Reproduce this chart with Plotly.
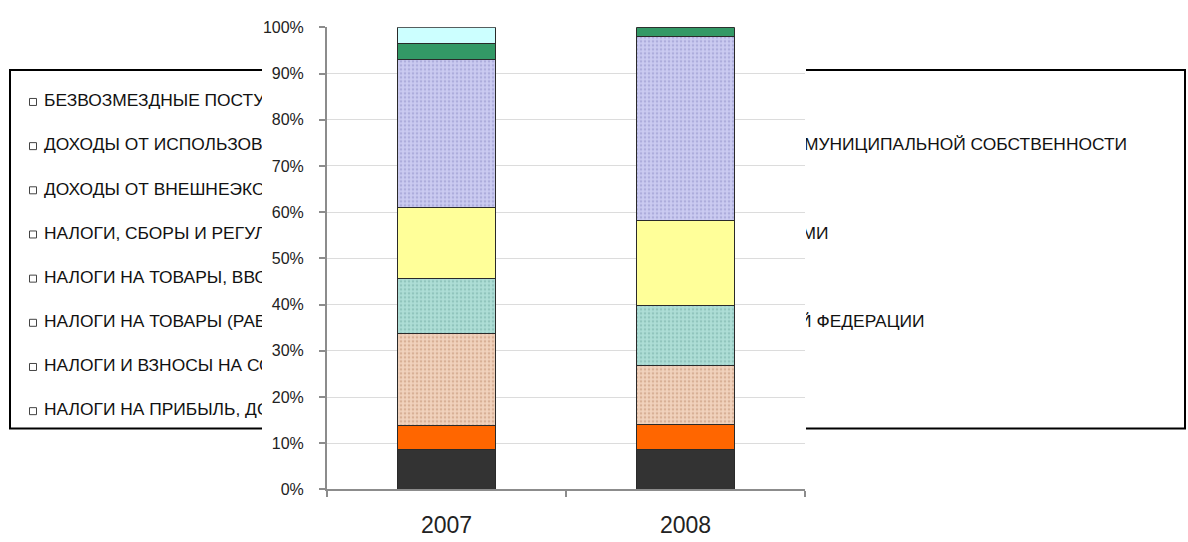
import plotly.graph_objects as go

W, H = 1188, 542

years = ["2007", "2008"]

# legend order (top of stack first)
series_names = [
    "БЕЗВОЗМЕЗДНЫЕ ПОСТУПЛЕНИЯ",
    "ДОХОДЫ ОТ ИСПОЛЬЗОВАНИЯ ИМУЩЕСТВА, НАХОДЯЩЕГОСЯ В ГОСУДАРСТВЕННОЙ И МУНИЦИПАЛЬНОЙ СОБСТВЕННОСТИ",
    "ДОХОДЫ ОТ ВНЕШНЕЭКОНОМИЧЕСКОЙ ДЕЯТЕЛЬНОСТИ",
    "НАЛОГИ, СБОРЫ И РЕГУЛЯРНЫЕ ПЛАТЕЖИ ЗА ПОЛЬЗОВАНИЕ ПРИРОДНЫМИ РЕСУРСАМИ",
    "НАЛОГИ НА ТОВАРЫ, ВВОЗИМЫЕ НА ТЕРРИТОРИЮ РОССИЙСКОЙ ФЕДЕРАЦИИ",
    "НАЛОГИ НА ТОВАРЫ (РАБОТЫ, УСЛУГИ), РЕАЛИЗУЕМЫЕ НА ТЕРРИТОРИИ РОССИЙСКОЙ ФЕДЕРАЦИИ",
    "НАЛОГИ И ВЗНОСЫ НА СОЦИАЛЬНЫЕ НУЖДЫ",
    "НАЛОГИ НА ПРИБЫЛЬ, ДОХОДЫ",
]

# shares, % (2007, 2008)
bezvozmezdnye = [3.4, 0.0]
imushchestvo = [3.6, 1.9]
vneshneekonom = [32.0, 39.8]
prirodnye = [15.3, 18.5]
vvozimye = [11.9, 13.0]
realizuemye = [20.0, 12.8]
socialnye = [5.1, 5.3]
pribyl = [8.7, 8.7]

series_values = [bezvozmezdnye, imushchestvo, vneshneekonom, prirodnye,
                 vvozimye, realizuemye, socialnye, pribyl]

y_ticks = [0, 10, 20, 30, 40, 50, 60, 70, 80, 90, 100]

# styles (bg colour, pattern fg colour or None)
styles = [
    ("#CCFFFF", None),
    ("#339966", None),
    ("#CBCBF1", "#9090C8"),
    ("#FFFF99", None),
    ("#AEDED6", "#74ACA4"),
    ("#F1D2BD", "#BF8E70"),
    ("#FF6600", None),
    ("#333333", None),
]

FONT = "Liberation Sans, Arial, sans-serif"

fig = go.Figure()

# ---- legend (drawn behind the chart) in pixel-space subplot xy ----
row0, row_step = 97, 45.6
leg_y = [row0 + i * row_step for i in range(len(series_names))]
fig.add_trace(go.Scatter(
    x=[33] * len(series_names), y=leg_y, mode="markers",
    marker=dict(symbol="square-open", size=7, color="#444444", line=dict(width=1)),
    xaxis="x", yaxis="y", showlegend=False, hoverinfo="skip"))
fig.add_trace(go.Scatter(
    x=[44] * len(series_names), y=leg_y, mode="text", text=series_names,
    textposition="middle right",
    textfont=dict(family=FONT, size=17.4, color="#111111"),
    xaxis="x", yaxis="y", showlegend=False, hoverinfo="skip"))

# ---- white cover subplot x2y2 (hides the middle of the legend) ----
fig.add_trace(go.Scatter(x=[0, 1, 1, 0, 0], y=[0, 0, 1, 1, 0], fill="toself",
                         fillcolor="white", line=dict(width=0), mode="lines",
                         xaxis="x2", yaxis="y2", showlegend=False, hoverinfo="skip"))

# ---- bars in x3y3 (bottom of stack first) ----
for name, vals, (bg, fg) in reversed(list(zip(series_names, series_values, styles))):
    marker = dict(color=bg, line=dict(color="#2a2a2a", width=1))
    if fg:
        marker["pattern"] = dict(shape=".", fgcolor=fg, bgcolor=bg, size=4, solidity=0.35)
    fig.add_trace(go.Bar(x=years, y=vals, name=name, marker=marker,
                         xaxis="x3", yaxis="y3", showlegend=False))

fig.update_layout(
    width=W, height=H,
    margin=dict(l=0, r=0, t=0, b=0),
    paper_bgcolor="white", plot_bgcolor="white",
    barmode="stack", bargap=0.594,
    showlegend=False,
    xaxis=dict(domain=[0, 1], range=[0, W], visible=False, fixedrange=True),
    yaxis=dict(domain=[0, 1], range=[H, 0], visible=False, fixedrange=True),
    xaxis2=dict(domain=[262 / W, 806 / W], range=[0, 1], visible=False, anchor="y2"),
    yaxis2=dict(domain=[0, 1], range=[0, 1], visible=False, anchor="x2"),
    xaxis3=dict(domain=[327 / W, 805 / W], anchor="y3", type="category",
                showline=True, linecolor="#8c8c8c", linewidth=2,
                ticks="outside", tickson="boundaries", ticklen=6, tickcolor="#8c8c8c",
                tickwidth=1.5, showgrid=False,
                tickfont=dict(family=FONT, size=23, color="#222222"),
                ticklabelstandoff=14),
    yaxis3=dict(domain=[(H - 497) / H, (H - 20) / H], anchor="x3",
                range=[0, 100], tickvals=y_ticks,
                ticktext=[f"{v}%" for v in y_ticks],
                showline=True, linecolor="#8c8c8c", linewidth=2,
                ticks="outside", ticklen=6, tickcolor="#8c8c8c", tickwidth=1.5,
                showgrid=True, gridcolor="#dcdcdc", gridwidth=1, zeroline=False,
                tickfont=dict(family=FONT, size=16, color="#222222"),
                ticklabelstandoff=12),
    shapes=[dict(type="rect", xref="paper", yref="paper",
                 x0=10 / W, x1=1185 / W, y0=(H - 434) / H, y1=(H - 64) / H,
                 line=dict(color="black", width=2), layer="below")],
)

fig.write_html(
    "out.html",
    config={"displayModeBar": False},
    post_script=(
        "document.documentElement.style.margin='0';"
        "document.body.style.margin='0';"
        "var d=document.getElementById('{plot_id}');"
        "d.style.position='fixed';d.style.top='0px';d.style.left='0px';"
    ),
)
